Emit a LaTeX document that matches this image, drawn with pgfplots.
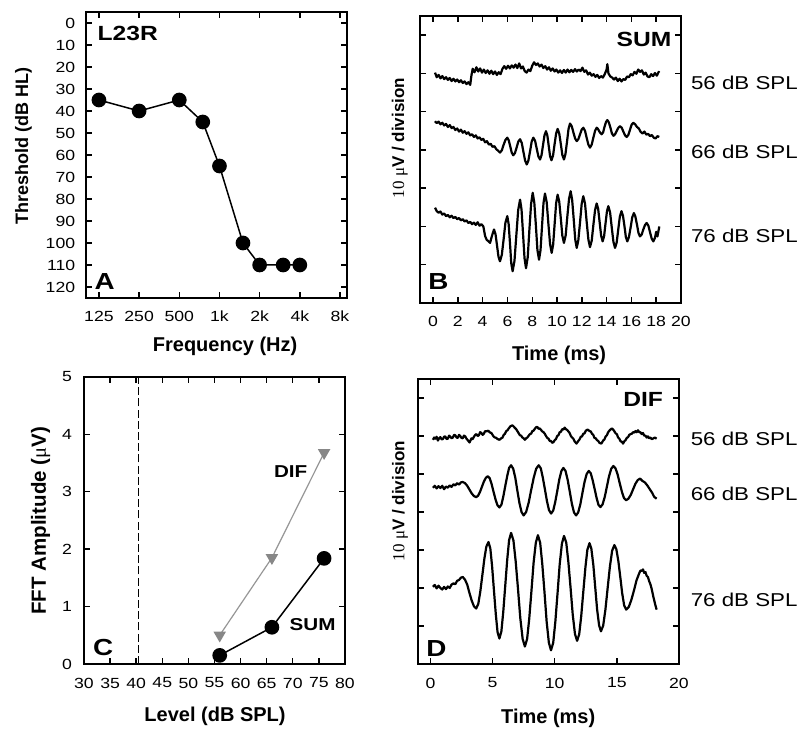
\documentclass[border=0pt]{standalone}
\usepackage{fontspec}
\setmainfont{Liberation Sans}
\newfontfamily\wide{Liberation Sans}[FakeStretch=1.2]
\newfontfamily\serif{Liberation Serif}
\usepackage{pgfplots}
\pgfplotsset{compat=1.18}
\definecolor{difgray}{RGB}{150,150,150}
\definecolor{difmark}{RGB}{135,135,135}
\pgfplotsset{
  panel/.style={
    scale only axis, width=130.5pt,
    axis line style={line width=0.95pt},
    tick align=inside,
    major tick length=2.8pt,
    tick style={black, line width=0.7pt},
    /pgf/number format/assume math mode=true,
    tick label style={font=\wide\fontsize{7.35}{8}\selectfont},
    xticklabel style={anchor=center, yshift=-9.25pt},
    yticklabel style={anchor=east, xshift=-1.9pt},
    label style={font=\bfseries\fontsize{10}{12}\selectfont},
    clip=false,
  },
  trace/.style={black, line width=1.1pt, line join=round, mark=none},
}
\tikzset{
  tag/.style={font=\wide\bfseries\fontsize{11.6}{13}\selectfont, inner sep=0pt},
  ttl/.style={font=\wide\bfseries\fontsize{10.25}{12}\selectfont, inner sep=0pt},
  spl/.style={font=\wide\fontsize{9.3}{11}\selectfont, inner sep=0pt, anchor=west},
}
\begin{document}
\begin{tikzpicture}
\useasboundingbox (0,0) rectangle (400pt,372pt);
% ---------------- Panel A ----------------
\begin{axis}[panel, height=143pt, at={(43pt,223pt)}, anchor=south west,
  xmode=log, log basis x=2, xmin=100, xmax=9030,
  xtick={125,250,500,1000,2000,4000,8000},
  xticklabels={125,250,500,1k,2k,4k,8k},
  y dir=reverse, ymin=-5, ymax=125, ytick={0,10,...,120},
  xlabel={Frequency (Hz)}, ylabel={Threshold (dB HL)},
  xlabel style={at={(axis description cs:0.533,-0.168)}, anchor=center},
  ylabel style={at={(axis description cs:-0.240,0.531)}, anchor=center, font=\bfseries\fontsize{9}{11}\selectfont},
]
\addplot[black, line width=0.75pt, mark=*, mark size=3.3pt] coordinates {
 (125,35)(250,40)(500,35)(750,45)(1000,65)(1500,100)(2000,110)(3000,110)(4000,110)};
\node[tag, anchor=south west, xshift=4.15pt, yshift=4pt] at (axis description cs:0,0) {A};
\node[ttl, anchor=north west, xshift=5.65pt, yshift=-7pt] at (axis description cs:0,1) {L23R};
\end{axis}
% ---------------- Panel B ----------------
\begin{axis}[panel, height=143.5pt, at={(210pt,220.5pt)}, anchor=south west,
  xmin=-1.05, xmax=20, xtick={0,2,...,20},
  ymin=-10, ymax=65, ytick={0,10,...,60}, yticklabels={},
  xlabel={Time (ms)}, ylabel={{\serif\mdseries 10 μ}V / division},
  xlabel style={at={(axis description cs:0.533,-0.181)}, anchor=center},
  ylabel style={at={(axis description cs:-0.077,0.575)}, anchor=center, font=\bfseries\fontsize{8.5}{10}\selectfont},
]
% 56 dB SPL
\addplot[trace] coordinates {
(0.16,50.2)(0.3,49.0)(0.45,49.6)(0.6,48.7)(0.75,49.3)(0.9,48.5)(1.05,49.0)(1.2,48.3)(1.35,48.8)(1.5,48.0)(1.65,48.6)(1.8,47.9)(1.95,48.4)(2.1,47.7)(2.25,48.2)(2.4,47.5)(2.55,47.9)(2.7,47.2)(2.85,47.7)(3.0,47.0)(3.1,49.5)(3.2,51.2)(3.35,50.3)(3.5,51.6)(3.65,50.5)(3.8,51.3)(3.95,50.2)(4.1,51.0)(4.25,50.1)(4.4,50.8)(4.55,49.9)(4.7,50.7)(4.85,49.8)(5.0,50.5)(5.15,49.6)(5.3,50.3)(5.45,49.8)(5.6,51.2)(5.75,51.9)(5.9,51.2)(6.05,52.0)(6.2,51.3)(6.35,52.1)(6.5,51.5)(6.65,52.3)(6.8,51.4)(6.95,52.6)(7.1,51.3)(7.25,51.8)(7.4,50.6)(7.55,50.2)(7.7,51.0)(7.85,50.6)(8.0,52.0)(8.15,52.9)(8.3,52.2)(8.45,52.6)(8.6,51.8)(8.75,52.3)(8.9,51.4)(9.05,51.9)(9.2,51.0)(9.35,51.6)(9.5,50.7)(9.65,51.3)(9.8,50.5)(9.95,51.0)(10.1,50.2)(10.25,50.8)(10.4,50.1)(10.55,50.9)(10.7,50.2)(10.85,51.0)(11.0,50.3)(11.15,50.9)(11.3,50.4)(11.45,51.1)(11.6,50.5)(11.75,51.0)(11.9,50.6)(12.05,51.5)(12.2,50.4)(12.35,50.8)(12.5,49.7)(12.65,50.2)(12.8,49.4)(12.95,49.8)(13.1,49.1)(13.25,49.6)(13.4,48.8)(13.55,49.3)(13.7,48.9)(13.85,49.8)(14.0,51.0)(14.06,52.4)(14.15,50.0)(14.3,49.2)(14.45,48.9)(14.6,48.4)(14.75,48.9)(14.9,48.0)(15.05,48.6)(15.2,47.9)(15.35,48.5)(15.5,48.3)(15.65,49.2)(15.8,49.0)(15.95,49.8)(16.1,49.5)(16.25,50.4)(16.4,49.9)(16.55,51.0)(16.7,50.4)(16.85,50.8)(17.0,49.7)(17.15,50.2)(17.3,49.2)(17.45,49.0)(17.6,49.8)(17.75,49.3)(17.9,50.1)(18.05,49.4)(18.2,50.4)(18.25,50.2)};
% 66 dB SPL
\addplot[trace] coordinates {
(0.16,37.5)(0.3,37.0)(0.45,37.4)(0.6,36.7)(0.75,37.1)(0.9,36.4)(1.05,36.8)(1.2,36.0)(1.35,36.5)(1.5,35.7)(1.65,36.0)(1.8,35.2)(1.95,35.6)(2.1,34.8)(2.25,35.3)(2.4,34.5)(2.55,34.9)(2.7,34.2)(2.85,34.6)(3.0,33.8)(3.15,34.1)(3.3,33.4)(3.45,33.8)(3.6,33.0)(3.75,33.3)(3.9,32.6)(4.05,32.9)(4.2,32.0)(4.35,32.3)(4.5,31.4)(4.65,31.6)(4.8,30.8)(4.95,31.0)(5.1,30.2)(5.25,29.8)(5.4,29.3)(5.55,29.9)(5.69,31.3)(5.84,32.6)(5.99,33.2)(6.11,32.5)(6.23,30.9)(6.35,29.3)(6.47,28.6)(6.61,29.2)(6.75,30.7)(6.88,32.2)(7.02,32.8)(7.16,31.8)(7.29,29.5)(7.43,27.2)(7.56,26.2)(7.69,27.2)(7.83,29.7)(7.96,32.2)(8.09,33.2)(8.23,32.4)(8.36,30.4)(8.5,28.3)(8.63,27.5)(8.75,28.6)(8.87,31.2)(8.99,33.8)(9.11,34.9)(9.22,33.8)(9.33,31.1)(9.44,28.4)(9.55,27.3)(9.68,28.5)(9.8,31.4)(9.93,34.3)(10.05,35.5)(10.18,34.3)(10.31,31.5)(10.43,28.7)(10.56,27.5)(10.68,28.9)(10.81,32.2)(10.93,35.5)(11.05,36.9)(11.19,36.2)(11.32,34.6)(11.46,33.0)(11.59,32.3)(11.72,32.8)(11.86,34.1)(11.99,35.3)(12.12,35.8)(12.26,35.0)(12.39,33.2)(12.53,31.4)(12.66,30.6)(12.8,31.4)(12.93,33.2)(13.07,35.0)(13.2,35.8)(13.3,35.5)(13.4,34.9)(13.5,34.4)(13.6,34.1)(13.72,34.6)(13.83,36.0)(13.95,37.3)(14.06,37.8)(14.18,37.2)(14.31,35.8)(14.43,34.3)(14.55,33.7)(14.68,34.1)(14.82,35.0)(14.95,35.8)(15.08,36.2)(15.22,35.8)(15.35,34.8)(15.49,33.8)(15.62,33.4)(15.75,33.9)(15.89,35.3)(16.02,36.6)(16.15,37.1)(16.3,36.7)(16.45,36.0)(16.6,35.6)(16.75,34.7)(16.9,34.3)(17.05,34.8)(17.2,34.0)(17.35,34.2)(17.5,33.6)(17.65,33.9)(17.8,33.2)(17.95,33.0)(18.1,33.6)(18.25,33.4)};
% 76 dB SPL
\addplot[trace] coordinates {
(0.16,14.9)(0.3,14.0)(0.45,13.6)(0.6,13.9)(0.75,13.1)(0.9,13.4)(1.05,12.7)(1.2,13.0)(1.35,12.4)(1.5,12.8)(1.65,12.2)(1.8,12.5)(1.95,11.9)(2.1,12.2)(2.25,11.6)(2.4,11.9)(2.55,11.3)(2.7,11.6)(2.85,10.9)(3.0,11.2)(3.15,10.6)(3.3,11.0)(3.45,10.4)(3.6,11.1)(3.75,10.2)(3.9,10.6)(4.06,10.0)(4.2,7.5)(4.33,6.5)(4.45,6.2)(4.6,5.7)(4.75,7.5)(4.92,9.2)(5.04,8.0)(5.16,5.1)(5.28,2.1)(5.4,0.9)(5.55,2.6)(5.7,6.8)(5.84,11.0)(5.99,12.7)(6.1,10.6)(6.21,5.5)(6.31,0.4)(6.42,-1.7)(6.57,1.0)(6.72,7.7)(6.87,14.3)(7.02,17.0)(7.14,14.4)(7.26,8.1)(7.38,1.7)(7.5,-0.9)(7.64,2.0)(7.77,9.0)(7.91,15.9)(8.04,18.8)(8.17,16.2)(8.3,10.1)(8.42,3.9)(8.55,1.3)(8.67,3.8)(8.79,10.0)(8.91,16.1)(9.03,18.6)(9.17,16.3)(9.3,10.9)(9.44,5.4)(9.57,3.1)(9.69,5.3)(9.81,10.7)(9.93,16.1)(10.05,18.3)(10.18,16.5)(10.31,12.0)(10.43,7.6)(10.56,5.7)(10.7,7.7)(10.83,12.5)(10.97,17.2)(11.1,19.2)(11.22,17.0)(11.35,11.8)(11.47,6.6)(11.59,4.4)(11.72,6.4)(11.86,11.2)(11.99,15.9)(12.12,17.9)(12.26,16.0)(12.39,11.3)(12.53,6.6)(12.66,4.6)(12.8,6.3)(12.93,10.3)(13.07,14.3)(13.2,16.0)(13.32,14.6)(13.44,11.1)(13.56,7.6)(13.68,6.1)(13.8,7.5)(13.91,10.7)(14.03,14.0)(14.14,15.3)(14.28,13.7)(14.41,9.9)(14.55,6.0)(14.68,4.4)(14.81,5.8)(14.94,9.2)(15.07,12.6)(15.2,14.0)(15.32,12.8)(15.44,10.1)(15.55,7.3)(15.67,6.1)(15.8,7.2)(15.94,9.8)(16.07,12.4)(16.2,13.5)(16.32,12.6)(16.45,10.5)(16.57,8.3)(16.69,7.4)(16.83,7.9)(16.96,9.2)(17.1,10.4)(17.23,10.9)(17.37,10.2)(17.5,8.5)(17.64,6.8)(17.77,6.1)(17.9,7.0)(18.0,8.6)(18.1,7.4)(18.2,9.1)(18.25,10.0)};
\node[spl] at (axis cs:20.78,47.4) {56 dB SPL};
\node[spl] at (axis cs:20.78,29.6) {66 dB SPL};
\node[spl] at (axis cs:20.78,7.6) {76 dB SPL};
\node[ttl, anchor=north east, xshift=-4.65pt, yshift=-7.85pt] at (axis description cs:1,1) {SUM};
\node[tag, anchor=south west, xshift=4pt, yshift=6.5pt] at (axis description cs:0,0) {B};
\end{axis}
% ---------------- Panel C ----------------
\begin{axis}[panel, height=143.5pt, at={(42pt,40pt)}, anchor=south west,
  xmin=30, xmax=80, xtick={30,35,...,80},
  ymin=0, ymax=5, ytick={0,1,...,5},
  xticklabel style={yshift=-0.25pt},
  yticklabel style={xshift=-0.65pt},
  xlabel={Level (dB SPL)}, ylabel={FFT Amplitude ({\serif\mdseries μ}V)},
  xlabel style={at={(axis description cs:0.502,-0.184)}, anchor=center},
  ylabel style={at={(axis description cs:-0.166,0.499)}, anchor=center, font=\bfseries\fontsize{10.25}{12}\selectfont},
]
\addplot[black, line width=0.7pt, dash pattern=on 4pt off 1.6pt] coordinates {(40.4,0)(40.4,5)};
\addplot[difgray, line width=0.6pt, mark=triangle*, mark size=3pt,
  mark options={rotate=180, fill=difmark, draw=difmark}] coordinates {(56,0.5)(66,1.85)(76,3.68)};
\addplot[black, line width=0.75pt, mark=*, mark size=3.3pt] coordinates {(56,0.15)(66,0.64)(76,1.84)};
\node[font=\wide\bfseries\fontsize{8.6}{10}\selectfont, inner sep=0pt] at (axis cs:69.6,3.35) {DIF};
\node[font=\wide\bfseries\fontsize{8.6}{10}\selectfont, inner sep=0pt] at (axis cs:73.8,0.68) {SUM};
\node[tag, anchor=south west, xshift=4.35pt, yshift=4pt] at (axis description cs:0,0) {C};
\end{axis}
% ---------------- Panel D ----------------
\begin{axis}[panel, height=142.5pt, at={(209pt,40pt)}, anchor=south west,
  xmin=-1, xmax=20, xtick={0,5,...,20},
  ymin=-10, ymax=65, ytick={0,10,...,60}, yticklabels={},
  xticklabel style={yshift=-0.25pt},
  xlabel={Time (ms)}, ylabel={{\serif\mdseries 10 μ}V / division},
  xlabel style={at={(axis description cs:0.499,-0.19)}, anchor=center},
  ylabel style={at={(axis description cs:-0.069,0.572)}, anchor=center, font=\bfseries\fontsize{8.5}{10}\selectfont},
]
% 56 dB SPL
\addplot[trace] coordinates {
(0.2,49.0)(0.3,49.6)(0.4,49.3)(0.5,49.8)(0.6,48.8)(0.7,49.4)(0.8,49.7)(0.9,49.1)(1.0,49.2)(1.1,49.8)(1.2,49.9)(1.3,49.2)(1.4,49.3)(1.5,50.1)(1.6,49.8)(1.7,49.4)(1.8,49.6)(1.9,50.3)(2.0,50.2)(2.1,49.6)(2.2,49.5)(2.3,50.3)(2.4,50.0)(2.5,49.5)(2.6,49.4)(2.7,50.1)(2.8,49.9)(2.9,49.3)(3.0,48.9)(3.15,48.3)(3.3,49.4)(3.4,49.2)(3.5,49.8)(3.6,50.3)(3.7,50.5)(3.8,50.0)(3.9,50.2)(4.0,51.0)(4.1,50.8)(4.2,50.3)(4.3,50.6)(4.4,51.3)(4.5,51.2)(4.65,51.4)(4.8,50.9)(4.9,50.8)(5.0,50.3)(5.1,49.8)(5.2,49.6)(5.3,49.5)(5.4,49.2)(5.55,49.0)(5.7,49.4)(5.8,49.6)(5.9,50.3)(6.0,50.6)(6.1,51.3)(6.2,51.5)(6.3,52.0)(6.45,52.6)(6.6,52.8)(6.75,52.3)(6.9,51.8)(7.05,51.0)(7.2,50.2)(7.3,50.1)(7.4,49.6)(7.5,49.4)(7.6,49.0)(7.7,49.4)(7.8,49.6)(8.0,50.5)(8.1,50.6)(8.2,51.3)(8.3,51.4)(8.4,51.9)(8.5,52.3)(8.6,52.4)(8.7,51.9)(8.8,52.0)(9.0,51.2)(9.1,51.0)(9.2,50.6)(9.3,50.0)(9.4,49.5)(9.5,49.3)(9.6,48.7)(9.7,48.7)(9.8,48.2)(9.9,48.4)(10.0,48.9)(10.1,49.2)(10.2,50.0)(10.3,50.2)(10.4,51.0)(10.5,51.1)(10.6,51.8)(10.7,51.7)(10.8,52.2)(10.9,51.8)(11.0,51.6)(11.1,51.2)(11.2,50.8)(11.3,50.0)(11.4,49.6)(11.5,49.3)(11.6,48.6)(11.75,48.0)(11.9,48.7)(12.0,49.1)(12.1,49.8)(12.2,49.9)(12.3,50.6)(12.4,50.7)(12.5,51.4)(12.65,51.7)(12.8,51.3)(12.9,51.2)(13.0,50.6)(13.1,50.3)(13.2,49.5)(13.3,49.4)(13.4,48.9)(13.5,48.7)(13.6,48.2)(13.75,48.0)(13.9,48.8)(14.0,49.1)(14.1,49.9)(14.2,50.2)(14.3,51.0)(14.45,51.6)(14.6,52.0)(14.75,51.5)(14.9,50.7)(15.0,50.5)(15.1,49.6)(15.2,49.3)(15.3,48.6)(15.4,48.5)(15.5,48.0)(15.6,48.6)(15.7,48.9)(15.8,49.5)(15.9,49.7)(16.0,50.3)(16.1,50.5)(16.2,50.6)(16.3,51.0)(16.4,50.9)(16.5,51.3)(16.6,51.0)(16.7,51.5)(16.8,51.0)(16.9,51.0)(17.0,50.5)(17.1,50.8)(17.2,50.1)(17.3,50.1)(17.4,49.6)(17.5,49.9)(17.6,49.4)(17.7,49.6)(17.8,49.2)(17.9,49.3)(18.05,49.6)(18.2,49.3)};
% 66 dB SPL
\addplot[trace] coordinates {
(0.2,36.4)(0.35,36.9)(0.5,36.2)(0.65,36.8)(0.8,36.3)(0.95,36.9)(1.1,36.0)(1.25,36.7)(1.4,36.4)(1.55,37.0)(1.7,36.6)(1.85,37.3)(2.0,37.0)(2.15,37.6)(2.3,37.2)(2.45,37.8)(2.6,37.9)(2.78,37.6)(2.96,36.9)(3.14,35.9)(3.32,34.9)(3.5,34.2)(3.68,33.9)(3.84,34.3)(3.99,35.3)(4.15,36.7)(4.3,38.0)(4.46,39.0)(4.61,39.4)(4.77,38.9)(4.92,37.4)(5.08,35.3)(5.24,33.3)(5.39,31.8)(5.55,31.2)(5.71,31.9)(5.86,34.0)(6.02,36.8)(6.18,39.5)(6.33,41.6)(6.49,42.3)(6.66,41.4)(6.83,39.0)(6.99,35.7)(7.16,32.4)(7.33,30.0)(7.5,29.1)(7.7,30.0)(7.9,32.4)(8.1,35.7)(8.31,39.0)(8.51,41.4)(8.71,42.3)(8.88,41.5)(9.04,39.1)(9.21,36.0)(9.38,32.8)(9.54,30.5)(9.71,29.6)(9.88,30.4)(10.04,32.6)(10.21,35.6)(10.37,38.6)(10.54,40.8)(10.7,41.6)(10.87,40.8)(11.04,38.5)(11.21,35.4)(11.38,32.2)(11.55,29.9)(11.72,29.1)(11.89,29.9)(12.06,32.0)(12.23,35.0)(12.4,37.9)(12.57,40.0)(12.74,40.8)(12.9,40.2)(13.05,38.4)(13.21,36.1)(13.37,33.7)(13.52,31.9)(13.68,31.3)(13.85,32.0)(14.03,34.0)(14.2,36.7)(14.37,39.4)(14.55,41.4)(14.72,42.1)(14.89,41.5)(15.06,39.9)(15.23,37.6)(15.4,35.4)(15.57,33.7)(15.74,33.1)(15.93,33.5)(16.12,34.5)(16.31,36.0)(16.49,37.4)(16.68,38.4)(16.87,38.8)(17.05,38.2)(17.25,37.8)(17.45,37.0)(17.65,36.0)(17.85,35.0)(18.0,34.0)(18.2,33.5)};
% 76 dB SPL
\addplot[trace] coordinates {
(0.2,10.3)(0.35,10.8)(0.5,9.9)(0.65,10.6)(0.8,10.0)(0.95,9.6)(1.1,10.3)(1.25,9.7)(1.4,10.4)(1.55,10.0)(1.7,10.9)(1.85,11.2)(2.0,11.0)(2.15,11.9)(2.3,12.1)(2.45,12.7)(2.6,12.9)(2.78,12.2)(2.96,10.9)(3.14,8.7)(3.32,6.7)(3.5,5.2)(3.68,4.6)(3.85,5.8)(4.01,9.0)(4.18,13.4)(4.34,17.7)(4.5,20.9)(4.67,22.1)(4.82,20.4)(4.96,15.8)(5.11,9.4)(5.26,3.1)(5.4,-1.6)(5.55,-3.3)(5.71,-1.4)(5.86,3.7)(6.02,10.6)(6.18,17.5)(6.33,22.6)(6.49,24.5)(6.68,22.5)(6.86,17.0)(7.05,9.6)(7.23,2.1)(7.42,-3.4)(7.6,-5.4)(7.78,-3.4)(7.95,1.9)(8.13,9.3)(8.3,16.6)(8.48,21.9)(8.65,23.9)(8.83,21.9)(9.0,16.3)(9.18,8.8)(9.35,1.2)(9.53,-4.4)(9.7,-6.4)(9.88,-4.4)(10.05,1.1)(10.23,8.7)(10.4,16.2)(10.58,21.7)(10.75,23.7)(10.93,21.9)(11.1,16.8)(11.28,9.9)(11.45,3.0)(11.63,-2.1)(11.8,-3.9)(11.97,-2.2)(12.13,2.5)(12.3,9.0)(12.47,15.4)(12.63,20.1)(12.8,21.8)(12.95,20.3)(13.11,16.0)(13.26,10.2)(13.41,4.4)(13.57,0.2)(13.72,-1.4)(13.9,0.1)(14.08,4.3)(14.26,10.0)(14.44,15.6)(14.62,19.8)(14.8,21.3)(14.96,20.2)(15.12,17.1)(15.28,12.8)(15.43,8.6)(15.59,5.4)(15.75,4.3)(15.96,5.0)(16.17,6.9)(16.38,9.4)(16.58,12.0)(16.79,13.8)(16.9,14.6)(17.0,14.5)(17.1,14.9)(17.2,14.0)(17.3,14.2)(17.4,13.2)(17.5,12.9)(17.6,11.8)(17.7,11.0)(17.8,9.8)(17.95,7.5)(18.1,5.5)(18.2,4.3)};
\node[spl] at (axis cs:20.92,49.3) {56 dB SPL};
\node[spl] at (axis cs:20.92,34.7) {66 dB SPL};
\node[spl] at (axis cs:20.92,6.8) {76 dB SPL};
\node[ttl, anchor=north east, xshift=-7.85pt, yshift=-6.35pt] at (axis description cs:1,1) {DIF};
\node[tag, anchor=south west, xshift=4pt, yshift=3.65pt] at (axis description cs:0,0) {D};
\end{axis}
\end{tikzpicture}
\end{document}
